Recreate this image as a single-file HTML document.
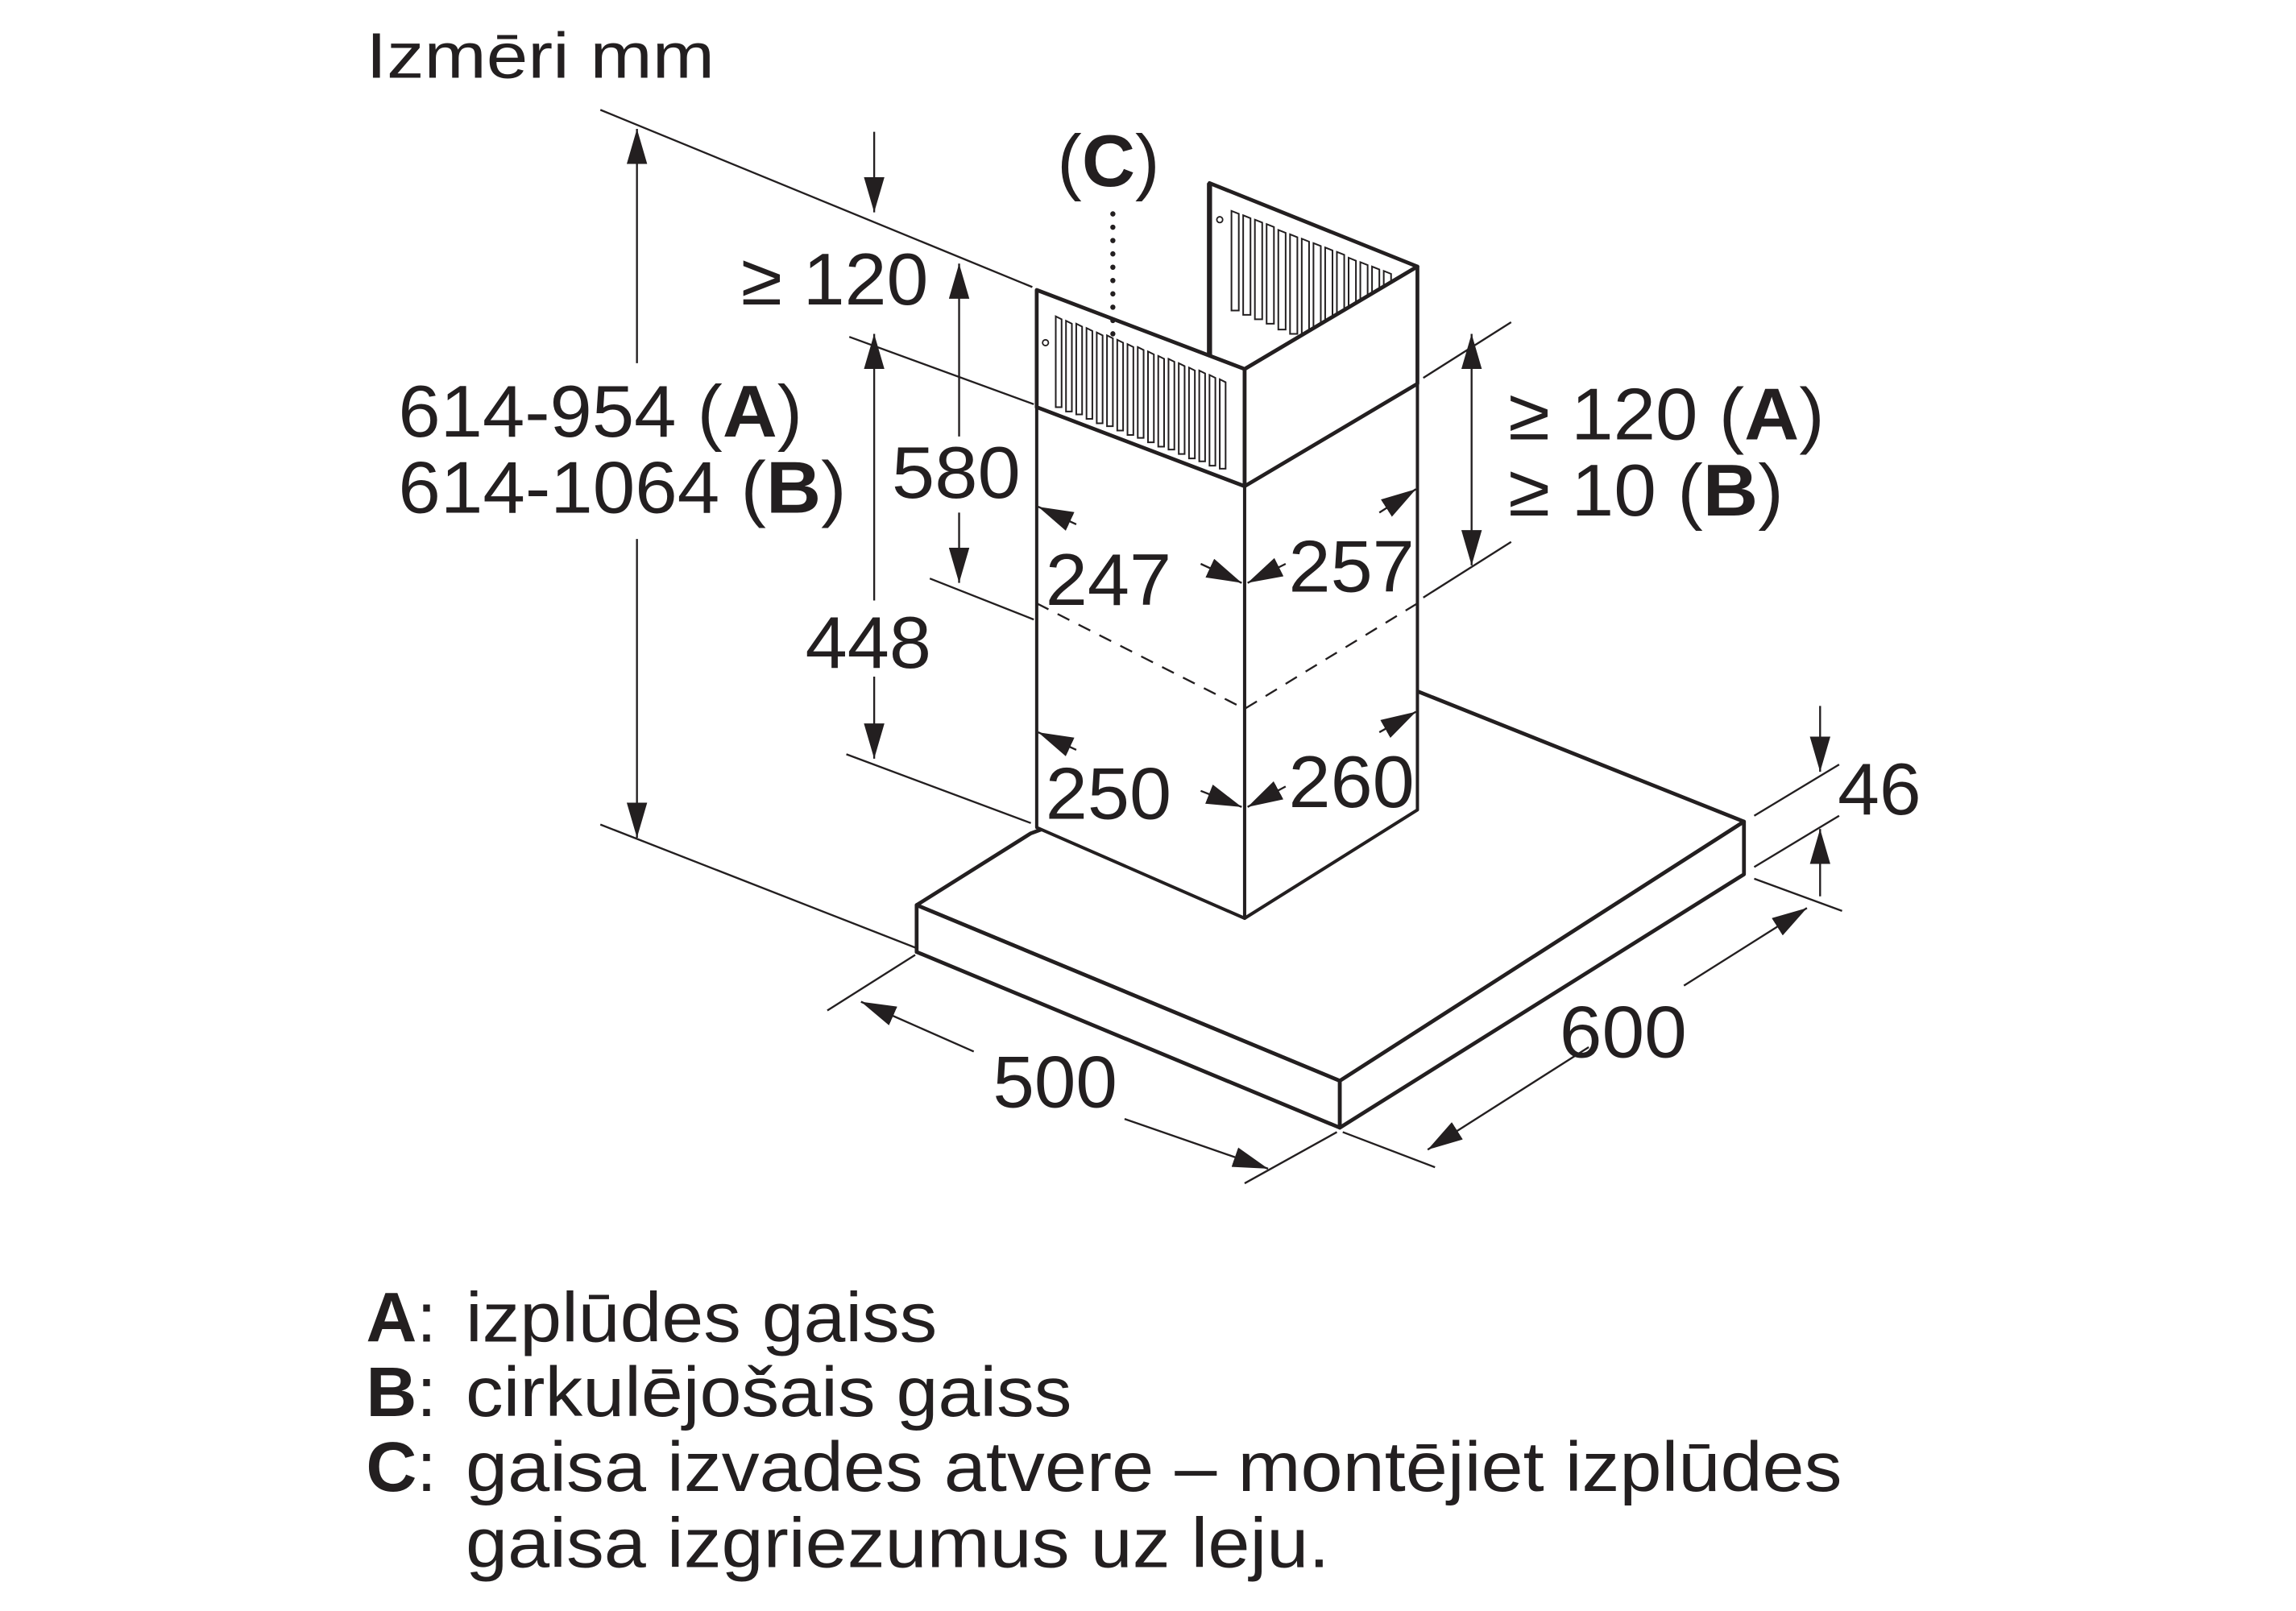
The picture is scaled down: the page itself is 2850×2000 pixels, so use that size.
<!DOCTYPE html>
<html><head><meta charset="utf-8"><style>
html,body{margin:0;padding:0;background:#fff;}
svg{display:block;}
text{font-family:"Liberation Sans",sans-serif;fill:#231f20;}
</style></head><body>
<svg width="2850" height="2000" viewBox="0 0 1568 1100" preserveAspectRatio="none" xmlns="http://www.w3.org/2000/svg">
<defs>
<marker id="a" viewBox="0 0 24 14" refX="24" refY="7" markerWidth="24" markerHeight="14" markerUnits="userSpaceOnUse" orient="auto-start-reverse">
<path d="M0,0 L24,7 L0,14 z" fill="#231f20"/></marker>
</defs>
<g stroke="#231f20" fill="none" stroke-linejoin="round">
<polygon points="626,618 704,569 968,472 1191,561 915,738" fill="#fff" stroke-width="2.6"/>
<polygon points="626,618 915,738 915,770 626,650" fill="#fff" stroke-width="2.6"/>
<polygon points="915,738 1191,561 1191,597 915,770" fill="#fff" stroke-width="2.6"/>
<polygon points="708,278 850,332 850,627 708,565" fill="#fff" stroke-width="2.2"/>
<polygon points="850,332 968,262 968,553 850,627" fill="#fff" stroke-width="2.2"/>
<polyline points="708,412 850,484 968,412" stroke-width="1.3" stroke-dasharray="9,7"/>
<polygon points="826,125 968,182 850,252 826,243" fill="#fff" stroke-width="2.6"/>
<line x1="826" y1="125" x2="826" y2="245" stroke-width="3.5"/>
</g>
<!-- back vents -->
<g stroke="#231f20" stroke-width="1.1" fill="none">
<path d="M841,144v68h5v-66z M849,147v68h5v-66z M857,150v68h5v-66z M865,153v68h5v-66z M873,157v68h5v-66z M881,160v68h5v-66z M889,163v68h5v-66z M897,166v68h5v-66z M905,169v68h5v-66z M913,172v68h5v-66z M921,176v68h5v-66z M929,179v68h5v-66z M937,182v68h5v-66z M945,185v68h5v-66z"/>
</g>
<g stroke="#231f20" fill="none" stroke-linejoin="round">
<polygon points="708,198 850,252 850,332 708,278" fill="#fff" stroke-width="2.6"/>
<polygon points="850,252 968,182 968,262 850,332" fill="#fff" stroke-width="2.6"/>
<circle cx="714" cy="234" r="2" stroke-width="1"/>
<circle cx="833" cy="150" r="2" stroke-width="1"/>
</g>
<g stroke="#231f20" stroke-width="1.1" fill="none">
<path d="M721,216v62h4v-60z M728,219v62h4v-60z M735,221v62h4v-60z M742,224v62h4v-60z M749,227v62h4v-60z M756,229v62h4v-60z M763,232v62h4v-60z M770,235v62h4v-60z M777,237v62h4v-60z M784,240v62h4v-60z M791,243v62h4v-60z M798,245v62h4v-60z M805,248v62h4v-60z M812,251v62h4v-60z M819,253v62h4v-60z M826,256v62h4v-60z M833,259v61h4v-59z"/>
</g>
<g stroke="#231f20" stroke-width="1.3" fill="none">
<line x1="410" y1="75" x2="705" y2="196"/>
<line x1="410" y1="563" x2="625" y2="647"/>
<line x1="435" y1="88" x2="435" y2="248" marker-start="url(#a)"/>
<line x1="435" y1="368" x2="435" y2="572" marker-end="url(#a)"/>
<line x1="597" y1="90" x2="597" y2="145" marker-end="url(#a)"/>
<line x1="580" y1="230" x2="706" y2="276"/>
<line x1="655" y1="180" x2="655" y2="298" marker-start="url(#a)"/>
<line x1="655" y1="350" x2="655" y2="398" marker-end="url(#a)"/>
<line x1="635" y1="395" x2="706" y2="423"/>
<line x1="597" y1="228" x2="597" y2="410" marker-start="url(#a)"/>
<line x1="597" y1="462" x2="597" y2="518" marker-end="url(#a)"/>
<line x1="578" y1="515" x2="704" y2="562"/>
<line x1="972" y1="258" x2="1032" y2="220"/>
<line x1="972" y1="408" x2="1032" y2="370"/>
<line x1="1005" y1="228" x2="1005" y2="386" marker-start="url(#a)" marker-end="url(#a)"/>
<line x1="735" y1="358" x2="709" y2="346" marker-end="url(#a)"/>
<line x1="820" y1="385" x2="848" y2="398" marker-end="url(#a)"/>
<line x1="878" y1="385" x2="852" y2="398" marker-end="url(#a)"/>
<line x1="942" y1="350" x2="967" y2="334" marker-end="url(#a)"/>
<line x1="735" y1="512" x2="709" y2="500" marker-end="url(#a)"/>
<line x1="820" y1="540" x2="848" y2="551" marker-end="url(#a)"/>
<line x1="878" y1="537" x2="852" y2="551" marker-end="url(#a)"/>
<line x1="942" y1="500" x2="967" y2="486" marker-end="url(#a)"/>
<line x1="1198" y1="557" x2="1256" y2="522"/>
<line x1="1198" y1="592" x2="1256" y2="557"/>
<line x1="1198" y1="600" x2="1258" y2="622"/>
<line x1="1243" y1="482" x2="1243" y2="527" marker-end="url(#a)"/>
<line x1="1243" y1="612" x2="1243" y2="566" marker-end="url(#a)"/>
<line x1="917" y1="773" x2="980" y2="797"/>
<line x1="1085" y1="715" x2="975" y2="785" marker-end="url(#a)"/>
<line x1="1150" y1="673" x2="1234" y2="620" marker-end="url(#a)"/>
<line x1="565" y1="690" x2="625" y2="652"/>
<line x1="850" y1="808" x2="913" y2="773"/>
<line x1="665" y1="718" x2="588" y2="684" marker-end="url(#a)"/>
<line x1="768" y1="764" x2="866" y2="798" marker-end="url(#a)"/>
</g>
<line x1="760" y1="146" x2="760" y2="232" stroke="#231f20" stroke-width="3.5" stroke-dasharray="0.1,9" stroke-linecap="round"/>
<g font-size="50" lengthAdjust="spacingAndGlyphs">
<text x="250" y="53" font-size="44" textLength="238" lengthAdjust="spacingAndGlyphs">Izmēri mm</text>
<text x="722" y="127" textLength="70" lengthAdjust="spacingAndGlyphs">(<tspan font-weight="bold">C</tspan>)</text>
<text x="272" y="298" textLength="276" lengthAdjust="spacingAndGlyphs">614-954 (<tspan font-weight="bold">A</tspan>)</text>
<text x="272" y="350" textLength="306" lengthAdjust="spacingAndGlyphs">614-1064 (<tspan font-weight="bold">B</tspan>)</text>
<text x="506" y="208" textLength="128" lengthAdjust="spacingAndGlyphs">≥ 120</text>
<text x="609" y="340" textLength="88" lengthAdjust="spacingAndGlyphs">580</text>
<text x="550" y="456" textLength="86" lengthAdjust="spacingAndGlyphs">448</text>
<text x="1030" y="300" textLength="216" lengthAdjust="spacingAndGlyphs">≥ 120 (<tspan font-weight="bold">A</tspan>)</text>
<text x="1030" y="352" textLength="188" lengthAdjust="spacingAndGlyphs">≥ 10 (<tspan font-weight="bold">B</tspan>)</text>
<text x="714" y="413" textLength="86" lengthAdjust="spacingAndGlyphs">247</text>
<text x="880" y="404" textLength="86" lengthAdjust="spacingAndGlyphs">257</text>
<text x="714" y="559" textLength="86" lengthAdjust="spacingAndGlyphs">250</text>
<text x="880" y="551" textLength="86" lengthAdjust="spacingAndGlyphs">260</text>
<text x="1255" y="556" textLength="57" lengthAdjust="spacingAndGlyphs">46</text>
<text x="1065" y="722" textLength="87" lengthAdjust="spacingAndGlyphs">600</text>
<text x="678" y="756" textLength="85" lengthAdjust="spacingAndGlyphs">500</text>
</g>
<g font-size="48">
<text x="250" y="916"><tspan font-weight="bold">A</tspan>:</text><text x="318" y="916" textLength="322" lengthAdjust="spacingAndGlyphs">izplūdes gaiss</text>
<text x="250" y="967"><tspan font-weight="bold">B</tspan>:</text><text x="318" y="967" textLength="414" lengthAdjust="spacingAndGlyphs">cirkulējošais gaiss</text>
<text x="250" y="1018"><tspan font-weight="bold">C</tspan>:</text><text x="318" y="1018" textLength="940" lengthAdjust="spacingAndGlyphs">gaisa izvades atvere – montējiet izplūdes</text>
<text x="318" y="1070" textLength="590" lengthAdjust="spacingAndGlyphs">gaisa izgriezumus uz leju.</text>
</g>
</svg>
</body></html>
